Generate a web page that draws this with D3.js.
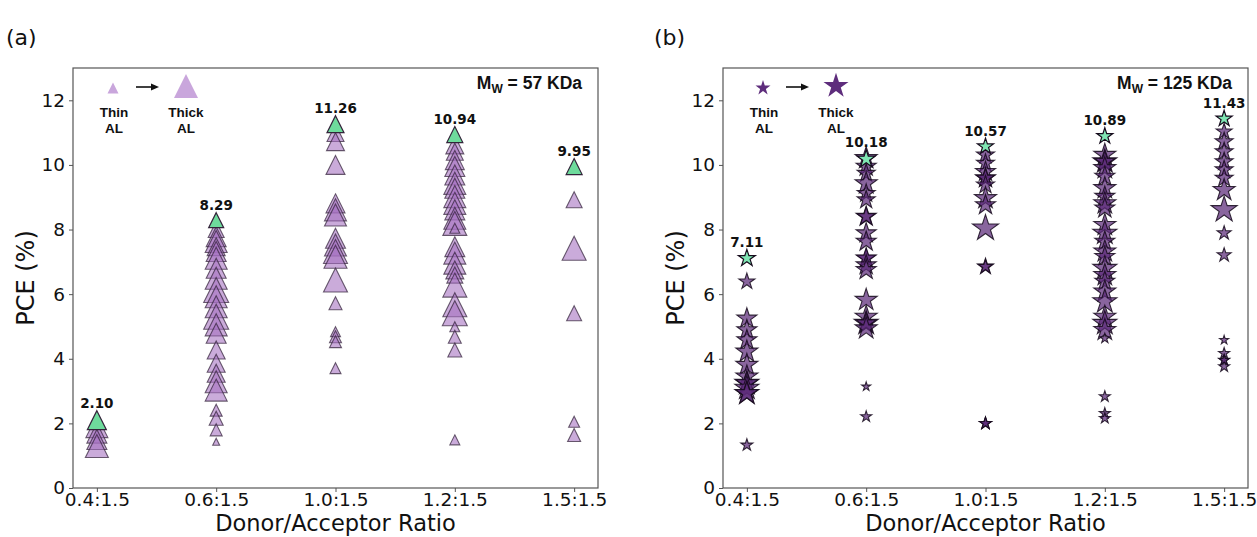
<!DOCTYPE html>
<html>
<head>
<meta charset="utf-8">
<script src="https://cdn.jsdelivr.net/npm/d3@7"></script>
<style>
  html, body { margin: 0; padding: 0; background: #fff; }
  svg { display: block; }
  .tick text { font-family: "DejaVu Sans", sans-serif; font-size: 18.5px; fill: #111; }
</style>
</head>
<body>
<svg id="fig" width="1257" height="537"></svg>
<script>
// Donor/acceptor ratios on the x axis
const ratios = ["0.4:1.5", "0.6:1.5", "1.0:1.5", "1.2:1.5", "1.5:1.5"];
const yTicks = [0, 2, 4, 6, 8, 10, 12];

// Mw = 57 kDa: PCE (%) of each device per ratio, with marker size (px) standing for AL thickness
const pce57 = [
  [1.90, 1.70, 1.50, 1.30],
  [8.00, 7.78, 7.63, 7.47, 7.32, 7.11, 6.80, 6.49, 6.13, 5.92, 5.61, 5.30, 5.05, 4.79, 4.27, 3.86, 3.55, 3.29, 3.03, 2.41, 2.16, 1.80, 1.43],
  [10.99, 10.72, 10.00, 8.81, 8.61, 8.45, 7.73, 7.52, 7.32, 7.16, 6.44, 5.72, 4.84, 4.68, 4.53, 3.71],
  [10.62, 10.41, 10.15, 9.95, 9.69, 9.43, 9.28, 9.02, 8.81, 8.61, 8.35, 8.19, 8.04, 7.47, 7.27, 6.96, 6.75, 6.59, 6.28, 5.67, 5.41, 4.99, 4.68, 4.27, 1.49],
  [8.92, 7.42, 5.41, 2.05, 1.64]
];
const al57 = [
  [22, 20, 20, 23],
  [16, 20, 22, 18, 20, 22, 20, 22, 25, 22, 22, 25, 22, 20, 18, 18, 18, 22, 22, 12, 14, 12, 7],
  [17, 18, 19, 19, 22, 22, 20, 22, 24, 23, 24, 13, 10, 12, 12, 11],
  [18, 17, 19, 20, 20, 22, 20, 22, 22, 20, 22, 24, 10, 20, 22, 22, 18, 16, 24, 24, 25, 10, 13, 14, 10],
  [16, 24, 15, 11, 13]
];
const best57 = [2.10, 8.29, 11.26, 10.94, 9.95];
const bestSize57 = [19, 15, 17, 16, 16];

// Mw = 125 kDa
const pce125 = [
  [6.39, 5.25, 4.89, 4.58, 4.22, 3.81, 3.45, 3.24, 3.24, 3.09, 2.93, 2.93, 1.33],
  [10.21, 9.95, 9.74, 9.43, 9.12, 8.92, 8.40, 8.40, 7.89, 7.63, 7.11, 7.11, 6.90, 6.75, 5.82, 5.30, 5.10, 5.10, 4.94, 3.14, 2.21],
  [10.31, 10.05, 9.79, 9.59, 9.59, 9.38, 8.97, 8.76, 8.04, 6.85, 6.85, 2.00, 2.00, 2.00],
  [10.31, 10.10, 10.10, 9.90, 9.64, 9.28, 9.02, 8.81, 8.66, 8.14, 7.89, 7.63, 7.32, 7.16, 6.80, 6.59, 6.39, 6.08, 5.77, 5.30, 5.10, 4.89, 4.63, 2.83, 2.31, 2.16],
  [11.03, 10.72, 10.41, 10.10, 9.85, 9.59, 9.22, 8.61, 7.89, 7.21, 4.58, 4.17, 3.96, 3.76, 3.96]
];
const al125 = [
  [16, 20, 20, 20, 22, 22, 22, 24, 22, 24, 24, 22, 12],
  [22, 20, 18, 22, 18, 18, 20, 18, 20, 20, 18, 20, 20, 20, 22, 22, 24, 20, 22, 9, 11],
  [18, 18, 20, 20, 18, 18, 22, 20, 26, 16, 14, 12, 11, 12],
  [22, 24, 20, 22, 20, 22, 20, 22, 20, 22, 24, 20, 22, 20, 24, 22, 20, 22, 24, 22, 24, 22, 10, 11, 11, 11],
  [16, 18, 18, 18, 18, 18, 22, 26, 14, 14, 9, 11, 11, 11, 10]
];
const best125 = [7.11, 10.18, 10.57, 10.89, 11.43];
const bestSize125 = [17, 18, 16, 16, 16];

// Marker shapes: upward triangle (width = height = size) and five-point star (size = width)
const triangleType = {
  draw(ctx, s) {
    const h = s / 2;
    ctx.moveTo(0, -h);
    ctx.lineTo(h, h);
    ctx.lineTo(-h, h);
    ctx.closePath();
  }
};
const starType = {
  draw(ctx, s) {
    const R = s / 1.902, r = R * 0.381966;
    for (let i = 0; i < 10; i++) {
      const a = -Math.PI / 2 + i * Math.PI / 5;
      const rad = i % 2 === 0 ? R : r;
      const px = rad * Math.cos(a), py = rad * Math.sin(a);
      if (i === 0) ctx.moveTo(px, py); else ctx.lineTo(px, py);
    }
    ctx.closePath();
  }
};

const svg = d3.select("#fig");
const TOP = 68, BOTTOM = 488;

function panel(opt) {
  const x = d3.scalePoint().domain(ratios).range([opt.left, opt.right]).padding(0.2);
  const y = d3.scaleLinear().domain([0, 13]).range([BOTTOM, TOP]);
  const g = svg.append("g");

  // frame
  g.append("rect")
    .attr("x", opt.left).attr("y", TOP)
    .attr("width", opt.right - opt.left).attr("height", BOTTOM - TOP)
    .attr("fill", "none").attr("stroke", "#555").attr("stroke-width", 1.2);

  const xa = g.append("g").attr("transform", `translate(0,${BOTTOM})`)
    .call(d3.axisBottom(x).tickSizeOuter(0).tickSize(4).tickPadding(1));
  xa.select(".domain").remove();
  xa.selectAll(".tick line").attr("stroke", "#555");

  const ya = g.append("g").attr("transform", `translate(${opt.left},0)`)
    .call(d3.axisLeft(y).tickValues(yTicks).tickFormat(d3.format("d")).tickSizeOuter(0).tickSize(4).tickPadding(4));
  ya.select(".domain").remove();
  ya.selectAll(".tick line").attr("stroke", "#555");

  // axis titles
  g.append("text")
    .attr("x", (opt.left + opt.right) / 2).attr("y", 531)
    .attr("text-anchor", "middle")
    .style("font-family", "DejaVu Sans, sans-serif").style("font-size", "22.5px").attr("fill", "#111")
    .text("Donor/Acceptor Ratio");
  g.append("text")
    .attr("transform", `translate(${opt.left - 39},${(TOP + BOTTOM) / 2}) rotate(-90)`)
    .attr("text-anchor", "middle")
    .style("font-family", "DejaVu Sans, sans-serif").style("font-size", "24px").attr("fill", "#111")
    .text("PCE (%)");

  // panel letter
  g.append("text")
    .attr("x", opt.letterX).attr("y", 45)
    .style("font-family", "DejaVu Sans, sans-serif").style("font-size", "22px").attr("fill", "#111")
    .text(opt.letter);

  // device points
  const pts = [];
  ratios.forEach((r, i) => opt.pce[i].forEach((v, j) => pts.push({ r, v, s: opt.sizes[i][j] })));
  const sym = d3.symbol().type(opt.shape).size(d => d.s);

  g.append("g").selectAll("path").data(pts).join("path")
    .attr("transform", d => `translate(${x(d.r)},${y(d.v)})`)
    .attr("d", sym)
    .attr("fill", opt.fill).attr("fill-opacity", opt.fillOpacity)
    .attr("stroke", opt.edge).attr("stroke-opacity", opt.edgeOpacity).attr("stroke-width", 1.1);

  // best device per ratio
  const best = ratios.map((r, i) => ({ r, v: opt.best[i], s: opt.bestSize[i] }));
  g.append("g").selectAll("path").data(best).join("path")
    .attr("transform", d => `translate(${x(d.r)},${y(d.v)})`)
    .attr("d", sym)
    .attr("fill", opt.green)
    .attr("stroke", opt.edge).attr("stroke-width", 1.2);

  g.append("g").selectAll("text").data(best).join("text")
    .attr("x", d => x(d.r)).attr("y", d => y(d.v) - d.s / 2 - 3)
    .attr("text-anchor", "middle")
    .style("font-family", "DejaVu Sans, sans-serif").style("font-size", "13.5px").style("font-weight", "bold")
    .attr("fill", "#111")
    .text(d => d3.format(".2f")(d.v));

  // thickness key
  const key = g.append("g");
  key.append("path").attr("transform", `translate(${opt.left + 40},88)`)
    .attr("d", d3.symbol().type(opt.shape).size(opt.keySmall)).attr("fill", opt.keyFill);
  key.append("path").attr("transform", `translate(${opt.left + 113},86)`)
    .attr("d", d3.symbol().type(opt.shape).size(opt.keyBig)).attr("fill", opt.keyFill);
  key.append("line")
    .attr("x1", opt.left + 63).attr("x2", opt.left + 80).attr("y1", 87).attr("y2", 87)
    .attr("stroke", "#111").attr("stroke-width", 1.6);
  key.append("path")
    .attr("d", `M${opt.left + 86},87 L${opt.left + 78},83.5 L${opt.left + 78},90.5 Z`)
    .attr("fill", "#111");
  const kt = [["Thin", opt.left + 41, 117], ["AL", opt.left + 41, 133], ["Thick", opt.left + 113, 117], ["AL", opt.left + 113, 133]];
  key.selectAll("text").data(kt).join("text")
    .attr("x", d => d[1]).attr("y", d => d[2]).attr("text-anchor", "middle")
    .style("font-family", "Liberation Sans, Arial, sans-serif").style("font-size", "13.5px").style("font-weight", "bold")
    .attr("fill", "#111")
    .text(d => d[0]);

  // molecular weight tag
  const mw = g.append("text")
    .attr("x", opt.right - 16).attr("y", 89).attr("text-anchor", "end")
    .style("font-family", "Liberation Sans, Arial, sans-serif").style("font-size", "17.5px").style("font-weight", "bold")
    .attr("fill", "#111");
  mw.append("tspan").text("M");
  mw.append("tspan").attr("dy", 4).style("font-size", "12px").text("W");
  mw.append("tspan").attr("dy", -4).text(` = ${opt.mw} KDa`);
}

panel({
  left: 73, right: 598, letter: "(a)", letterX: 6,
  pce: pce57, sizes: al57, best: best57, bestSize: bestSize57,
  shape: triangleType, fill: "#a46fc0", fillOpacity: 0.58, edge: "#33233a", edgeOpacity: 0.72,
  green: "#6edb9c", keyFill: "#c9a6dc", keySmall: 11, keyBig: 24, mw: 57
});
panel({
  left: 723, right: 1248, letter: "(b)", letterX: 654,
  pce: pce125, sizes: al125, best: best125, bestSize: bestSize125,
  shape: starType, fill: "#5b2a78", fillOpacity: 0.72, edge: "#160b1c", edgeOpacity: 0.85,
  green: "#7fe6b3", keyFill: "#5e2d7c", keySmall: 15, keyBig: 25, mw: 125
});
</script>
</body>
</html>
